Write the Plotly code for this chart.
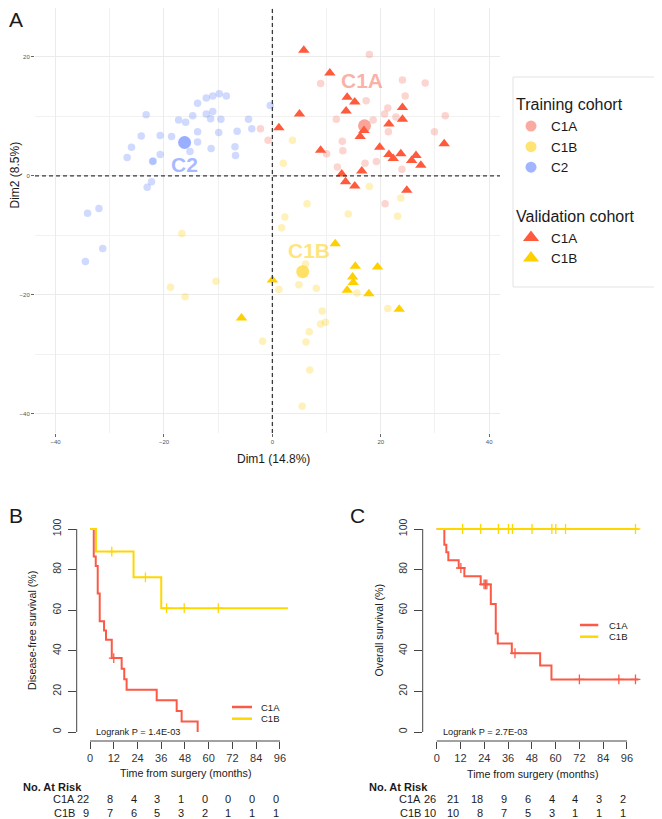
import numpy as np
import plotly.graph_objects as go

# The page body has an 8px margin; the figure is sized/offset to compensate.
OFF = 8
W, H = 662 - OFF, 819 - OFF
FONT = "Liberation Sans, Arial, Helvetica, sans-serif"

# ---------------- Panel A data (PCA scatter) ----------------
tr_c1a_x = [17.9, 8.9, 24.0, 28.2, 24.5, 17.3, 21.3, 20.7, 22.8, 18.6, 11.8, 31.9, 29.9, 21.4,
            12.9, 13.0, 10.0, 17.1, 19.2, 12.0, 23.9, -2.2, -0.8, 20.8]
tr_c1a_y = [20.4, 15.5, 16.1, 15.6, 13.4, 12.6, 11.4, 10.4, 9.9, 9.4, 9.5, 10.1, 7.4, 7.4,
            5.8, 4.2, 3.7, 2.1, 2.4, 1.5, 1.1, 7.9, 6.0, -4.7]

tr_c1b_x = [3.7, 2.0, 17.9, 23.7, 6.4, 14.0, 23.1, 2.3, 1.7, 6.1, 4.9, 8.1, 1.2, 15.6, 21.3,
            9.2, 8.9, 9.8, 6.8, 6.2, -1.8, 6.9, 5.5, -16.7, -18.8, -16.1, -10.4]
tr_c1b_y = [6.0, 2.1, -1.8, -3.7, -4.7, -6.4, -6.8, -6.9, -8.7, -14.8, -18.3, -18.9, -19.1, -19.7,
            -22.3, -22.7, -24.9, -24.6, -26.2, -27.9, -27.8, -32.6, -38.7, -9.7, -18.7, -20.3, -17.7]

tr_c2_x = [-23.3, -17.3, -16.0, -14.7, -13.8, -12.2, -11.0, -9.8, -8.5, -12.2, -11.0, -11.4, -9.5,
           -4.4, -3.8, -6.5, -9.9, -13.8, -13.8, -18.6, -20.7, -24.2, -26.0, -26.8, -20.7, -22.1,
           -22.0, -15.2, -11.3, -6.9, -6.8, -22.3, -23.1, -32.0, -34.1, -31.3, -34.5, -0.4]
tr_c2_y = [10.25, 9.4, 9.0, 10.1, 12.2, 13.1, 13.4, 13.8, 13.4, 10.4, 10.8, 9.6, 9.5,
           9.5, 7.9, 7.5, 7.3, 7.4, 5.7, 6.6, 6.8, 6.7, 4.8, 3.1, 3.6, 2.4,
           2.5, 4.1, 4.6, 4.9, 3.4, -1.0, -1.9, -5.5, -6.3, -12.2, -14.4, 11.8]

va_c1a_x = [5.8, 10.6, 13.8, 15.2, 13.6, 5.0, 1.2, 24.0, 24.0, 21.5, 16.9, 16.2, 31.7, 8.9,
            19.8, 21.5, 23.7, 22.3, 26.5, 25.7, 27.4, 16.5, 12.8, 13.5, 15.2, 24.8]
va_c1a_y = [21.1, 17.3, 13.2, 12.4, 10.9, 10.4, 8.1, 11.5, 9.5, 8.7, 7.6, 6.6, 5.4, 4.3,
            4.8, 3.6, 3.7, 2.9, 3.4, 2.6, 1.8, 0.8, 0.3, -1.0, -1.7, -2.4]

va_c1b_x = [11.6, 15.3, 19.4, 14.8, 14.9, 13.8, 17.8, 23.4, 0.0, -5.7]
va_c1b_y = [-11.4, -15.2, -15.3, -17.0, -17.9, -19.2, -19.8, -22.4, -17.5, -23.9]

cluster_names = ["C1A", "C1B", "C2"]
centroid_x = [17.0, 5.6, -16.2]
centroid_y = [8.4, -16.1, 5.6]
label_x = [16.5, 6.7, -16.2]
label_y = [16.1, -12.6, 1.85]

dim1_label = "Dim1 (14.8%)"
dim2_label = "Dim2 (8.5%)"
a_ticks_x = [-40, -20, 0, 20, 40]
a_ticks_y = [-40, -20, 0, 20]

# ---------------- Panel B data (DFS) ----------------
dfs_c1a_t = [0, 1.9, 2.9, 3.9, 4.9, 7.1, 8.1, 11.0, 16.0, 17.3, 18.5, 33.7, 43.8, 46.3, 54.4]
dfs_c1a_s = [100, 86.4, 81.8, 68.2, 54.5, 50.0, 45.5, 36.4, 31.2, 26.0, 20.8, 15.6, 10.4, 5.2, 0]
dfs_c1a_cens = [12.0]
dfs_c1b_t = [0, 3.0, 22.0, 36.0, 100.0]
dfs_c1b_s = [100, 88.9, 76.2, 61.0, 61.0]
dfs_c1b_cens = [11.0, 28.0, 38.7, 47.6, 64.8]
dfs_p = "Logrank P = 1.4E-03"
dfs_ylabel = "Disease-free survival (%)"

# ---------------- Panel C data (OS) ----------------
os_c1a_t = [0, 3.85, 4.86, 5.87, 11.1, 13.95, 22.2, 27.3, 29.8, 30.8, 37.9, 52.2, 57.9, 101.8]
os_c1a_s = [100, 92.3, 88.5, 84.6, 80.8, 76.7, 72.7, 63.0, 48.5, 43.6, 38.8, 32.8, 25.9, 25.9]
os_c1a_cens = [12.2, 23.9, 24.6, 25.3, 39.5, 72.0, 91.9, 100.3]
os_c1b_t = [0, 101.8]
os_c1b_s = [100, 100]
os_c1b_cens = [13.1, 22.2, 31.1, 36.2, 38.2, 48.1, 58.1, 60.1, 65.0, 100.3]
os_p = "Logrank P = 2.7E-03"
os_ylabel = "Overall survival (%)"

xlabel_km = "Time from surgery (months)"
risk_times = [0, 12, 24, 36, 48, 60, 72, 84, 96]
surv_ticks = [0, 20, 40, 60, 80, 100]
dfs_risk_c1a = [22, 8, 4, 3, 1, 0, 0, 0, 0]
dfs_risk_c1b = [9, 7, 6, 5, 3, 2, 1, 1, 1]
os_risk_c1a = [26, 21, 18, 9, 6, 4, 4, 3, 2]
os_risk_c1b = [10, 10, 8, 7, 5, 3, 1, 1, 1]

# ---------------- styles ----------------
C1A_BASE = "rgb(248,125,110)"
C1B_BASE = "rgb(255,212,40)"
C2_BASE = "rgb(110,140,255)"
TRI_C1A = "#FF5A3C"
TRI_C1B = "#FFD000"
KM_RED = "#FA5A46"
KM_YEL = "#FFD700"
TXT = "#1a1a1a"
AX = "#444444"


def px(x):
    return (x - OFF) / W


def py(y):
    return 1 - (y - OFF) / H


fig = go.Figure()

# training circles
for xs, ys, col in [(tr_c1a_x, tr_c1a_y, C1A_BASE), (tr_c1b_x, tr_c1b_y, C1B_BASE),
                    (tr_c2_x, tr_c2_y, C2_BASE)]:
    fig.add_trace(go.Scatter(x=xs, y=ys, mode="markers", xaxis="x", yaxis="y",
                             marker=dict(size=7.5, color=col, opacity=0.32),
                             showlegend=False, hoverinfo="skip"))
# centroids
cent_cols = [C1A_BASE, C1B_BASE, C2_BASE]
fig.add_trace(go.Scatter(x=centroid_x, y=centroid_y, mode="markers", xaxis="x", yaxis="y",
                         marker=dict(size=13, color=cent_cols, opacity=0.7),
                         showlegend=False, hoverinfo="skip"))
# validation triangles
for xs, ys, col in [(va_c1a_x, va_c1a_y, TRI_C1A), (va_c1b_x, va_c1b_y, TRI_C1B)]:
    fig.add_trace(go.Scatter(x=xs, y=ys, mode="markers", xaxis="x", yaxis="y",
                             marker=dict(size=10, color=col, symbol="triangle-up"),
                             showlegend=False, hoverinfo="skip"))

# legend entries panel A
leg_specs = [("C1A", "circle", C1A_BASE, 0.65, "train", "Training cohort", 11),
             ("C1B", "circle", C1B_BASE, 0.65, "train", None, 11),
             ("C2", "circle", C2_BASE, 0.65, "train", None, 11),
             ("C1A", "triangle-up", TRI_C1A, 1.0, "valid", "Validation cohort", 14),
             ("C1B", "triangle-up", TRI_C1B, 1.0, "valid", None, 14)]
for name, sym, col, op, grp, gtitle, sz in leg_specs:
    kw = {}
    if gtitle:
        kw["legendgrouptitle"] = dict(text=gtitle, font=dict(size=16, family=FONT, color=TXT))
    fig.add_trace(go.Scatter(x=[None], y=[None], mode="markers", xaxis="x", yaxis="y",
                             name=name, legendgroup=grp, showlegend=True,
                             marker=dict(symbol=sym, color=col, opacity=op, size=sz), **kw))


def step_at(ts, ss, c):
    idx = int(np.searchsorted(np.asarray(ts), c, side="right")) - 1
    return ss[max(idx, 0)]


def km_traces(ax, ay, curves):
    for t, s, cens, col in curves:
        fig.add_trace(go.Scatter(x=t, y=s, mode="lines", line=dict(color=col, width=2, shape="hv"),
                                 xaxis=ax, yaxis=ay, showlegend=False, hoverinfo="skip"))
    for t, s, cens, col in curves:
        fig.add_trace(go.Scatter(x=cens, y=[step_at(t, s, c) for c in cens], mode="markers",
                                 marker=dict(symbol="cross-thin", size=7,
                                             line=dict(color=col, width=1.3)),
                                 xaxis=ax, yaxis=ay, showlegend=False, hoverinfo="skip"))


km_traces("x2", "y2", [(dfs_c1a_t, dfs_c1a_s, dfs_c1a_cens, KM_RED),
                       (dfs_c1b_t, dfs_c1b_s, dfs_c1b_cens, KM_YEL)])
km_traces("x3", "y3", [(os_c1a_t, os_c1a_s, os_c1a_cens, KM_RED),
                       (os_c1b_t, os_c1b_s, os_c1b_cens, KM_YEL)])

# ---------------- layout ----------------
grid_a = dict(showgrid=True, gridcolor="#EBEBEB", gridwidth=1, zeroline=False, showline=False,
              ticks="outside", ticklen=3, tickwidth=1, tickcolor="#666",
              tickfont=dict(size=6, family=FONT, color="#555"),
              minor=dict(dtick=10, tick0=0, showgrid=True, gridcolor="#F1F1F1", gridwidth=1))

km_x = dict(showgrid=False, zeroline=False, showline=False, ticks="outside", ticklen=7,
            tickwidth=1, tickcolor=AX, tickvals=risk_times,
            tickfont=dict(size=11, family=FONT, color="#333"))
km_y = dict(showgrid=False, zeroline=False, showline=False, ticks="outside", ticklen=8,
            tickwidth=1, tickcolor=AX, tickvals=surv_ticks, tickangle=-90,
            tickfont=dict(size=10.5, family=FONT, color="#333"), ticklabelstandoff=3)

b_x0, b_x1 = 76.7, 300.0
c_x0, c_x1 = 422.7, 650.0
km_bottom, km_top = 741.0, 515.0

fig.update_layout(
    width=W, height=H, autosize=False, template="none",
    margin=dict(l=0, r=0, t=0, b=0),
    paper_bgcolor="white", plot_bgcolor="white",
    font=dict(family=FONT, color=TXT),
    xaxis=dict(domain=[px(35), px(500)], range=[-43.8, 42.0], tickvals=a_ticks_x, anchor="y", **grid_a),
    yaxis=dict(domain=[py(433), py(8)], range=[-43.2, 28.2], tickvals=a_ticks_y, anchor="x", **grid_a),
    xaxis2=dict(domain=[px(b_x0), px(b_x1)], range=[(b_x0 - 90) / 1.979, (b_x1 - 90) / 1.979],
                anchor="y2", **km_x),
    yaxis2=dict(domain=[py(km_bottom), py(km_top)],
                range=[(732 - km_bottom) / 2.03, (732 - km_top) / 2.03], anchor="x2", **km_y),
    xaxis3=dict(domain=[px(c_x0), px(c_x1)], range=[(c_x0 - 436.7) / 1.982, (c_x1 - 436.7) / 1.982],
                anchor="y3", **km_x),
    yaxis3=dict(domain=[py(km_bottom), py(km_top)],
                range=[(732 - km_bottom) / 2.03, (732 - km_top) / 2.03], anchor="x3", **km_y),
    legend=dict(x=px(511), y=py(87), xanchor="left", yanchor="top", bgcolor="rgba(0,0,0,0)",
                borderwidth=0, traceorder="grouped", tracegroupgap=26,
                font=dict(size=13.5, family=FONT, color=TXT), itemsizing="trace"),
    showlegend=True,
)

dash_style = dict(color="#3a3a3a", width=1.3, dash="4px,3px")
shapes = [
    dict(type="line", xref="x", yref="y domain", x0=0, x1=0, y0=0, y1=1, layer="above",
         line=dash_style),
    dict(type="line", xref="x domain", yref="y", x0=0, x1=1, y0=0, y1=0, layer="above",
         line=dash_style),
    # legend frame
    dict(type="rect", xref="paper", yref="paper", x0=px(513), x1=px(661.5), y0=py(287), y1=py(77),
         line=dict(color="#E3E3E3", width=1), fillcolor="rgba(0,0,0,0)"),
]
for xr, yr in [("x2", "y2"), ("x3", "y3")]:
    shapes.append(dict(type="line", xref=xr, yref=yr + " domain", x0=risk_times[0], x1=risk_times[-1],
                       y0=0, y1=0, line=dict(color=AX, width=1)))
    shapes.append(dict(type="line", xref=xr + " domain", yref=yr, x0=0, x1=0,
                       y0=surv_ticks[0], y1=surv_ticks[-1], line=dict(color=AX, width=1)))

# manual KM legends
km_leg = [(232, 252, 707, 259, 718.7), (580, 598.3, 625, 606.7, 636.7)]
annotations = []
for lx0, lx1, ly, tx, ly2 in km_leg:
    for yy, col, nm in [(ly, KM_RED, "C1A"), (ly2, KM_YEL, "C1B")]:
        shapes.append(dict(type="line", xref="paper", yref="paper", x0=px(lx0), x1=px(lx1),
                           y0=py(yy), y1=py(yy), line=dict(color=col, width=2.5)))
        annotations.append(dict(text=nm, xref="paper", yref="paper", x=px(tx), y=py(yy),
                                xanchor="left", yanchor="middle", showarrow=False,
                                font=dict(size=9.5, family=FONT, color=TXT)))

fig.update_layout(shapes=shapes)


def ann(text, x, y, size, xanchor="center", angle=0, xref="paper", yref="paper", color=TXT, **kw):
    annotations.append(dict(text=text, x=x, y=y, xref=xref, yref=yref, xanchor=xanchor,
                            yanchor="middle", showarrow=False, textangle=angle,
                            font=dict(size=size, family=FONT, color=color), **kw))


# panel letters
ann("A", px(15.5), py(19), 21)
ann("B", px(15.5), py(515), 21)
ann("C", px(357.5), py(515.5), 21)

# panel A titles and cluster labels
ann(dim1_label, px(273), py(459.3), 12)
ann(dim2_label, px(15), py(175.5), 12, angle=-90)
lab_cols = ["rgba(248,125,110,0.6)", "rgba(255,212,40,0.6)", "rgba(110,140,255,0.6)"]
for nm, lx, ly, col in zip(cluster_names, label_x, label_y, lab_cols):
    ann("<b>%s</b>" % nm, lx, ly, 21, xref="x", yref="y", color=col)

# KM axis titles
ann(xlabel_km, px(185.8), py(773), 10.7)
ann(xlabel_km, px(532.5), py(774), 10.7)
ann(dfs_ylabel, px(31.5), py(630.5), 10.7, angle=-90)
ann(os_ylabel, px(378), py(630.5), 10.7, angle=-90)
ann(dfs_p, 24.5, 0, 9.2, xref="x2", yref="y2")
ann(os_p, 24.5, 0, 9.2, xref="x3", yref="y3")

# risk tables
for xr, left, lab_right, r1, r2 in [("x2", 20.7, 76.5, dfs_risk_c1a, dfs_risk_c1b),
                                    ("x3", 367.3, 423.3, os_risk_c1a, os_risk_c1b)]:
    ann("<b>No. At Risk</b>", px(left), py(786.7), 11, xanchor="left")
    for row, yy, nm in [(r1, 798.7, "C1A"), (r2, 812.7, "C1B")]:
        ann(nm, px(lab_right), py(yy), 11, xanchor="right")
        for t, n in zip(risk_times, row):
            ann(str(n), t, py(yy), 11, xanchor="right", xref=xr, xshift=1)

fig.update_layout(annotations=annotations)
fig.write_html("out.html")
